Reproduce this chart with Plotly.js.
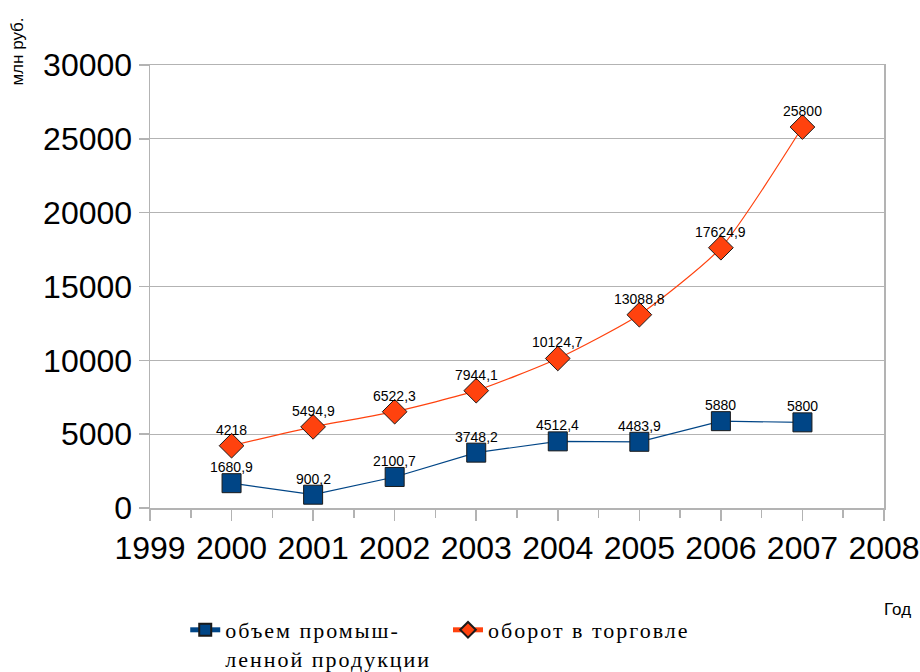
<!DOCTYPE html>
<html>
<head>
<meta charset="utf-8">
<script src="https://cdn.plot.ly/plotly-3.0.1.min.js"></script>
<style>
html,body{margin:0;padding:0;background:#fff;}
#chart{width:920px;height:672px;}
.legendtext, g[class*="legend"] text{letter-spacing:2px !important;}
g[class*="legend"] .scrollbox, g[class*="legend"] g{clip-path:none !important;}
</style>
</head>
<body>
<div id="chart"></div>
<script>
const years = [2000, 2001, 2002, 2003, 2004, 2005, 2006, 2007];
const industry = [1680.9, 900.2, 2100.7, 3748.2, 4512.4, 4483.9, 5880, 5800];
const trade = [4218, 5494.9, 6522.3, 7944.1, 10124.7, 13088.8, 17624.9, 25800];
const yTicks = [0, 5000, 10000, 15000, 20000, 25000, 30000];
const xTicks = [1999, 2000, 2001, 2002, 2003, 2004, 2005, 2006, 2007, 2008];
const industryName = 'объем промыш-<br>ленной продукции';
const tradeName = 'оборот в торговле';

const fmt = v => String(v).replace('.', ',');

const traces = [
  {
    x: years, y: industry, name: industryName, type: 'scatter', mode: 'lines+markers',
    line: {color: '#004586', width: 1.2},
    marker: {symbol: 'square', size: 19, color: '#004586', line: {color: '#1a1a1a', width: 1}},
    cliponaxis: false, legend: 'legend'
  },
  {
    x: years, y: trade, name: tradeName, type: 'scatter', mode: 'lines+markers',
    line: {color: '#ff420e', width: 1.2, shape: 'spline', smoothing: 0.6},
    marker: {symbol: 'diamond', size: 19, color: '#ff420e', line: {color: '#1a1a1a', width: 1}},
    cliponaxis: false, legend: 'legend2'
  }
];

const labelFont = {family: 'Liberation Sans, Arial, sans-serif', size: 14, color: '#000'};
const labels = [];
[industry, trade].forEach(series => {
  series.forEach((v, i) => {
    labels.push({x: years[i], y: v, xref: 'x', yref: 'y', text: fmt(v), showarrow: false,
      yshift: 16, xanchor: 'center', yanchor: 'middle', font: labelFont});
  });
});

const legendFont = {family: 'Liberation Serif, DejaVu Serif, serif', size: 22, color: '#000'};

const layout = {
  width: 920, height: 672,
  margin: {l: 150, r: 36, t: 65, b: 164, autoexpand: false},
  paper_bgcolor: '#fff', plot_bgcolor: '#fff',
  font: {family: 'Liberation Sans, Arial, sans-serif', color: '#000'},
  showlegend: true,
  legend: {
    orientation: 'h', x: 0.048, y: -0.228, xanchor: 'left', yanchor: 'top',
    font: legendFont, itemsizing: 'constant', valign: 'top', bgcolor: 'rgba(0,0,0,0)'
  },
  legend2: {
    orientation: 'h', x: 0.406, y: -0.228, xanchor: 'left', yanchor: 'top',
    font: legendFont, itemsizing: 'constant', valign: 'top', bgcolor: 'rgba(0,0,0,0)'
  },
  xaxis: {
    range: [1999, 2008], tickvals: xTicks, ticktext: xTicks.map(String),
    showgrid: false, zeroline: false,
    showline: true, linecolor: '#b3b3b3', linewidth: 1.5, mirror: true,
    ticks: 'outside', ticklen: 11, tickcolor: '#b3b3b3', tickwidth: 1.5,
    minor: {dtick: 0.5, tick0: 1999, ticks: 'outside', ticklen: 8, tickcolor: '#b3b3b3', showgrid: false},
    tickfont: {size: 32, color: '#000'}
  },
  yaxis: {
    range: [0, 30000], tickvals: yTicks, ticktext: yTicks.map(String),
    showgrid: true, gridcolor: '#b3b3b3', gridwidth: 1.2, zeroline: false,
    showline: true, linecolor: '#b3b3b3', linewidth: 1.5, mirror: true,
    ticks: 'outside', ticklen: 10, tickcolor: '#b3b3b3', tickwidth: 1.5,
    tickfont: {size: 32, color: '#000'}
  },
  annotations: labels.concat([
    {text: 'млн руб.', xref: 'paper', yref: 'paper', x: -0.18, y: 1.03, textangle: -90,
     showarrow: false, font: {size: 17, color: '#000'}, xanchor: 'center', yanchor: 'middle'},
    {text: 'Год', xref: 'paper', yref: 'paper', x: 1.018, y: -0.23,
     showarrow: false, font: {size: 17, color: '#000'}, xanchor: 'center', yanchor: 'middle'}
  ])
};

Plotly.newPlot('chart', traces, layout, {displayModeBar: false, staticPlot: true});
</script>
</body>
</html>
